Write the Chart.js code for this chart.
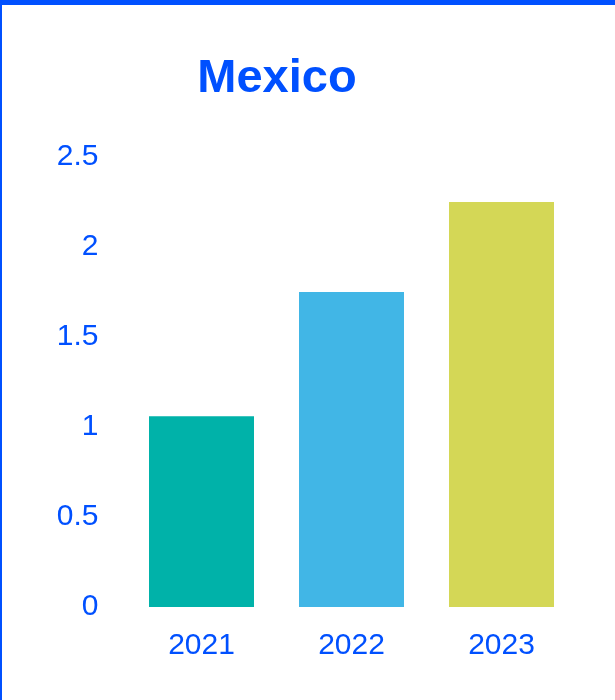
<!DOCTYPE html>
<html>
<head>
<meta charset="utf-8">
<script src="https://cdn.jsdelivr.net/npm/chart.js@4"></script>
<style>
  html, body { margin: 0; padding: 0; background: #fff; }
  #wrap { position: relative; width: 615px; height: 700px; }
  #frame {
    position: absolute; left: 0; top: 0; width: 615px; height: 700px;
    box-sizing: border-box; border-top: 5px solid #0050ff; border-left: 2px solid #0050ff;
    pointer-events: none;
  }
  canvas { position: absolute; left: 0; top: 0; }
</style>
</head>
<body>
<div id="wrap">
  <canvas id="chart" width="615" height="700"></canvas>
  <div id="frame"></div>
</div>
<script>
document.addEventListener("DOMContentLoaded", function() {

let years = ["2021", "2022", "2023"];
let values = [1.06, 1.75, 2.25];
let barColors = ["#00b2a9", "#41b6e6", "#d4d756"];
let yTicks = [0, 0.5, 1, 1.5, 2, 2.5];

const blue = "#0050ff";

// move the title a bit left like the original
const titleShift = {
  id: "titleShift",
  afterLayout(chart) {
    if (chart.titleBlock) {
      chart.titleBlock.left = 0;
      chart.titleBlock.right = 554;
    }
  }
};

const ctx = document.getElementById("chart").getContext("2d");
new Chart(ctx, {
  type: "bar",
  data: {
    labels: years,
    datasets: [{
      data: values,
      backgroundColor: barColors,
      borderWidth: 0,
      barPercentage: 0.7,
      categoryPercentage: 1
    }]
  },
  options: {
    responsive: false,
    animation: false,
    events: [],
    layout: { padding: { left: 0, right: 38.5, top: 0, bottom: 0 } },
    plugins: {
      legend: { display: false },
      tooltip: { enabled: false },
      title: {
        display: true,
        text: "Mexico",
        color: blue,
        font: { family: "Arial, 'Liberation Sans'", size: 47, weight: "bold", lineHeight: 1.2 },
        padding: { top: 51, bottom: 49.6 }
      }
    },
    scales: {
      x: {
        grid: { display: false, drawTicks: false },
        border: { display: false },
        ticks: {
          color: blue,
          padding: 21,
          font: { family: "Arial, 'Liberation Sans'", size: 30 }
        },
        afterFit(scale) { scale.height = 93; }
      },
      y: {
        min: 0,
        max: 2.5,
        grid: { display: false, drawTicks: false },
        border: { display: false },
        afterBuildTicks(scale) { scale.ticks = yTicks.map(v => ({ value: v })); },
        ticks: {
          color: blue,
          padding: 28,
          font: { family: "Arial, 'Liberation Sans'", size: 30 },
          callback: v => String(v)
        },
        afterFit(scale) { scale.width = 126.5; }
      }
    }
  },
  plugins: [titleShift]
});

});
</script>
</body>
</html>
